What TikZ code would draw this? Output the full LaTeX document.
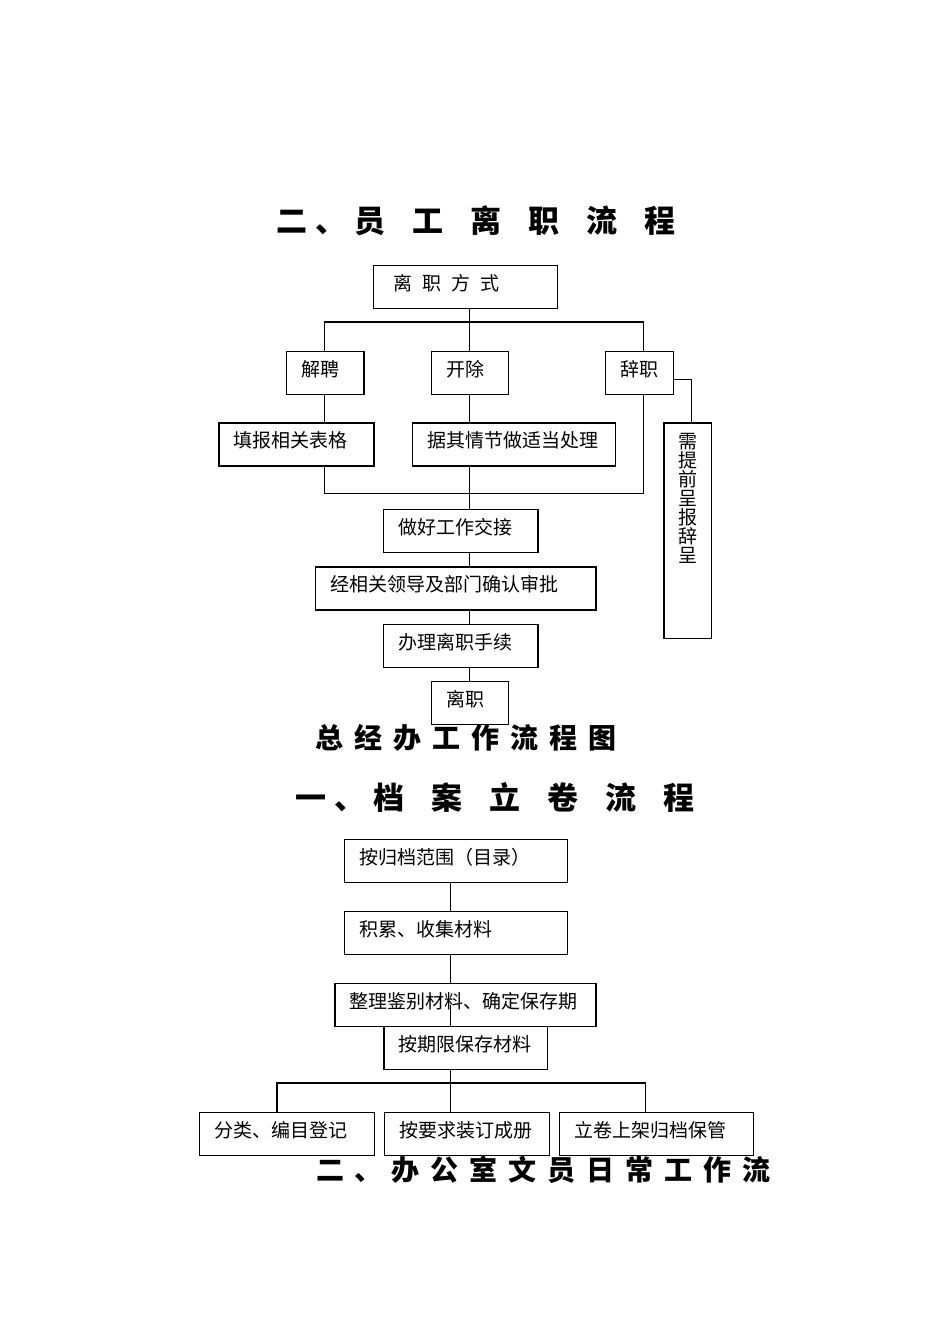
\documentclass[tikz,border=0pt]{standalone}
\usepackage{fontspec}
\newfontfamily\cjk{Noto Sans CJK SC}
\usetikzlibrary{calc}
\tikzset{
  box/.style={draw, line width=1.2pt, anchor=north west, inner xsep=15pt, inner ysep=0pt,
    text height=25pt, text depth=18pt, align=left, font=\cjk\fontsize{19}{19}\selectfont},
  conn/.style={line width=1.2pt},
  ttlA/.style={anchor=west, inner sep=0pt, font=\cjk\bfseries\fontsize{31}{31}\selectfont},
  ttlB/.style={anchor=west, inner sep=0pt, font=\cjk\bfseries\fontsize{28}{28}\selectfont},
}
\begin{document}
\begin{tikzpicture}[x=1pt,y=-1pt]
\fill[white] (0,0) rectangle (950,1342);
\useasboundingbox (0,0) rectangle (950,1342);

% ---------- titles ----------
\node[ttlA] (title1) at (276,221) {二\hspace{8pt}、\hspace{8pt}员\hspace{27pt}工\hspace{27pt}离\hspace{27pt}职\hspace{27pt}流\hspace{27pt}程};
\node[ttlB] (title2) at (315.5,738) {总\hspace{11pt}经\hspace{11pt}办\hspace{11pt}工\hspace{11pt}作\hspace{11pt}流\hspace{11pt}程\hspace{11pt}图};
\node[ttlA] (title3) at (295.5,797) {一\hspace{8pt}、\hspace{8pt}档\hspace{27pt}案\hspace{27pt}立\hspace{27pt}卷\hspace{27pt}流\hspace{27pt}程};
\node[ttlB] (title4) at (316.5,1170) {二\hspace{9.5pt}、\hspace{9.5pt}办\hspace{11pt}公\hspace{11pt}室\hspace{11pt}文\hspace{11pt}员\hspace{11pt}日\hspace{11pt}常\hspace{11pt}工\hspace{11pt}作\hspace{11pt}流};

% ---------- section 1 ----------
\node[box, text width=154pt] (fangshi) at (373,265) {\hspace*{5pt}离\hspace{10pt}职\hspace{10pt}方\hspace{10pt}式};
\node[box, text width=47.6pt] (jiepin) at (285.7,350.7) {解聘};
\node[box, text width=47.3pt] (kaichu) at (430.7,350.7) {开除};
\node[box, text width=38pt] (cizhi) at (604.7,350.7) {辞职};
\node[box, text width=125pt] (tianbao) at (218.3,422.3) {填报相关表格};
\node[box, text width=173pt] (juqi) at (411.7,422.3) {据其情节做适当处理};
\node[draw, line width=1.2pt, anchor=north west, inner sep=0pt, minimum width=47.7pt, minimum height=215.4pt] (tiqian) at (663.3,422.3) {};
\node[anchor=north, inner sep=0pt, align=center, font=\cjk\fontsize{19}{19}\selectfont, yshift=-11pt] (tiqiantxt) at (tiqian.north) {需\\提\\前\\呈\\报\\辞\\呈};
\node[box, text width=124.6pt] (zuohao) at (382.7,509) {做好工作交接};
\node[box, text width=250.6pt] (jing) at (314.7,566.3) {经相关领导及部门确认审批};
\node[box, text width=124.6pt] (banli) at (382.7,623.7) {办理离职手续};
\node[box, text width=47.3pt] (lizhi) at (430.7,681) {离职};

\coordinate (t1) at (469.7,0);
\coordinate (bus1L) at (324.7,322);
\coordinate (bus1R) at (643.7,322);
\coordinate (bus2L) at (324.7,493.7);
\coordinate (bus2R) at (643.7,493.7);
\coordinate (tqc) at (691.7,379.7);

\draw[conn] (t1 |- fangshi.south) -- (t1 |- kaichu.north);
\draw[conn] (bus1L |- jiepin.north) -- (bus1L) -- (bus1R) -- (bus1R |- cizhi.north);
\draw[conn] (bus1L |- jiepin.south) -- (bus1L |- tianbao.north);
\draw[conn] (t1 |- kaichu.south) -- (t1 |- juqi.north);
\draw[conn] (bus2L |- tianbao.south) -- (bus2L) -- (bus2R) -- (bus2R |- cizhi.south);
\draw[conn] (t1 |- juqi.south) -- (t1 |- zuohao.north);
\draw[conn] (cizhi.east |- tqc) -- (tqc) -- (tqc |- tiqian.north);
\draw[conn] (t1 |- zuohao.south) -- (t1 |- jing.north);
\draw[conn] (t1 |- jing.south) -- (t1 |- banli.north);
\draw[conn] (t1 |- banli.south) -- (t1 |- lizhi.north);

% ---------- section 2 ----------
\node[box, text width=192.7pt] (anguidang) at (344,839) {按归档范围（目录）};
\node[box, text width=192.7pt] (jilei) at (344,910.7) {积累、收集材料};
\node[box, text width=231pt] (zhengli) at (334.3,982.7) {整理鉴别材料、确定保存期};
\node[box, text width=133.4pt] (anqixian) at (383.3,1025.7) {按期限保存材料};
\node[box, text width=145pt] (fenlei) at (198.8,1111.7) {分类、编目登记};
\node[box, text width=135.3pt] (anyaoqiu) at (383.5,1111.7) {按要求装订成册};
\node[box, text width=164.2pt] (lijuan) at (558.5,1111.7) {立卷上架归档保管};

\coordinate (t2) at (450.5,0);
\coordinate (bus3L) at (276.9,1083);
\coordinate (bus3R) at (645.8,1083);

\draw[conn] (t2 |- anguidang.south) -- (t2 |- jilei.north);
\draw[conn] (t2 |- jilei.south) -- (t2 |- zhengli.north);
\draw[conn] (t2 |- zhengli.center) -- (t2 |- anqixian.north);
\draw[conn] (t2 |- anqixian.south) -- (t2 |- anyaoqiu.north);
\draw[conn] (bus3L |- fenlei.north) -- (bus3L) -- (bus3R) -- (bus3R |- lijuan.north);
\end{tikzpicture}
\end{document}
